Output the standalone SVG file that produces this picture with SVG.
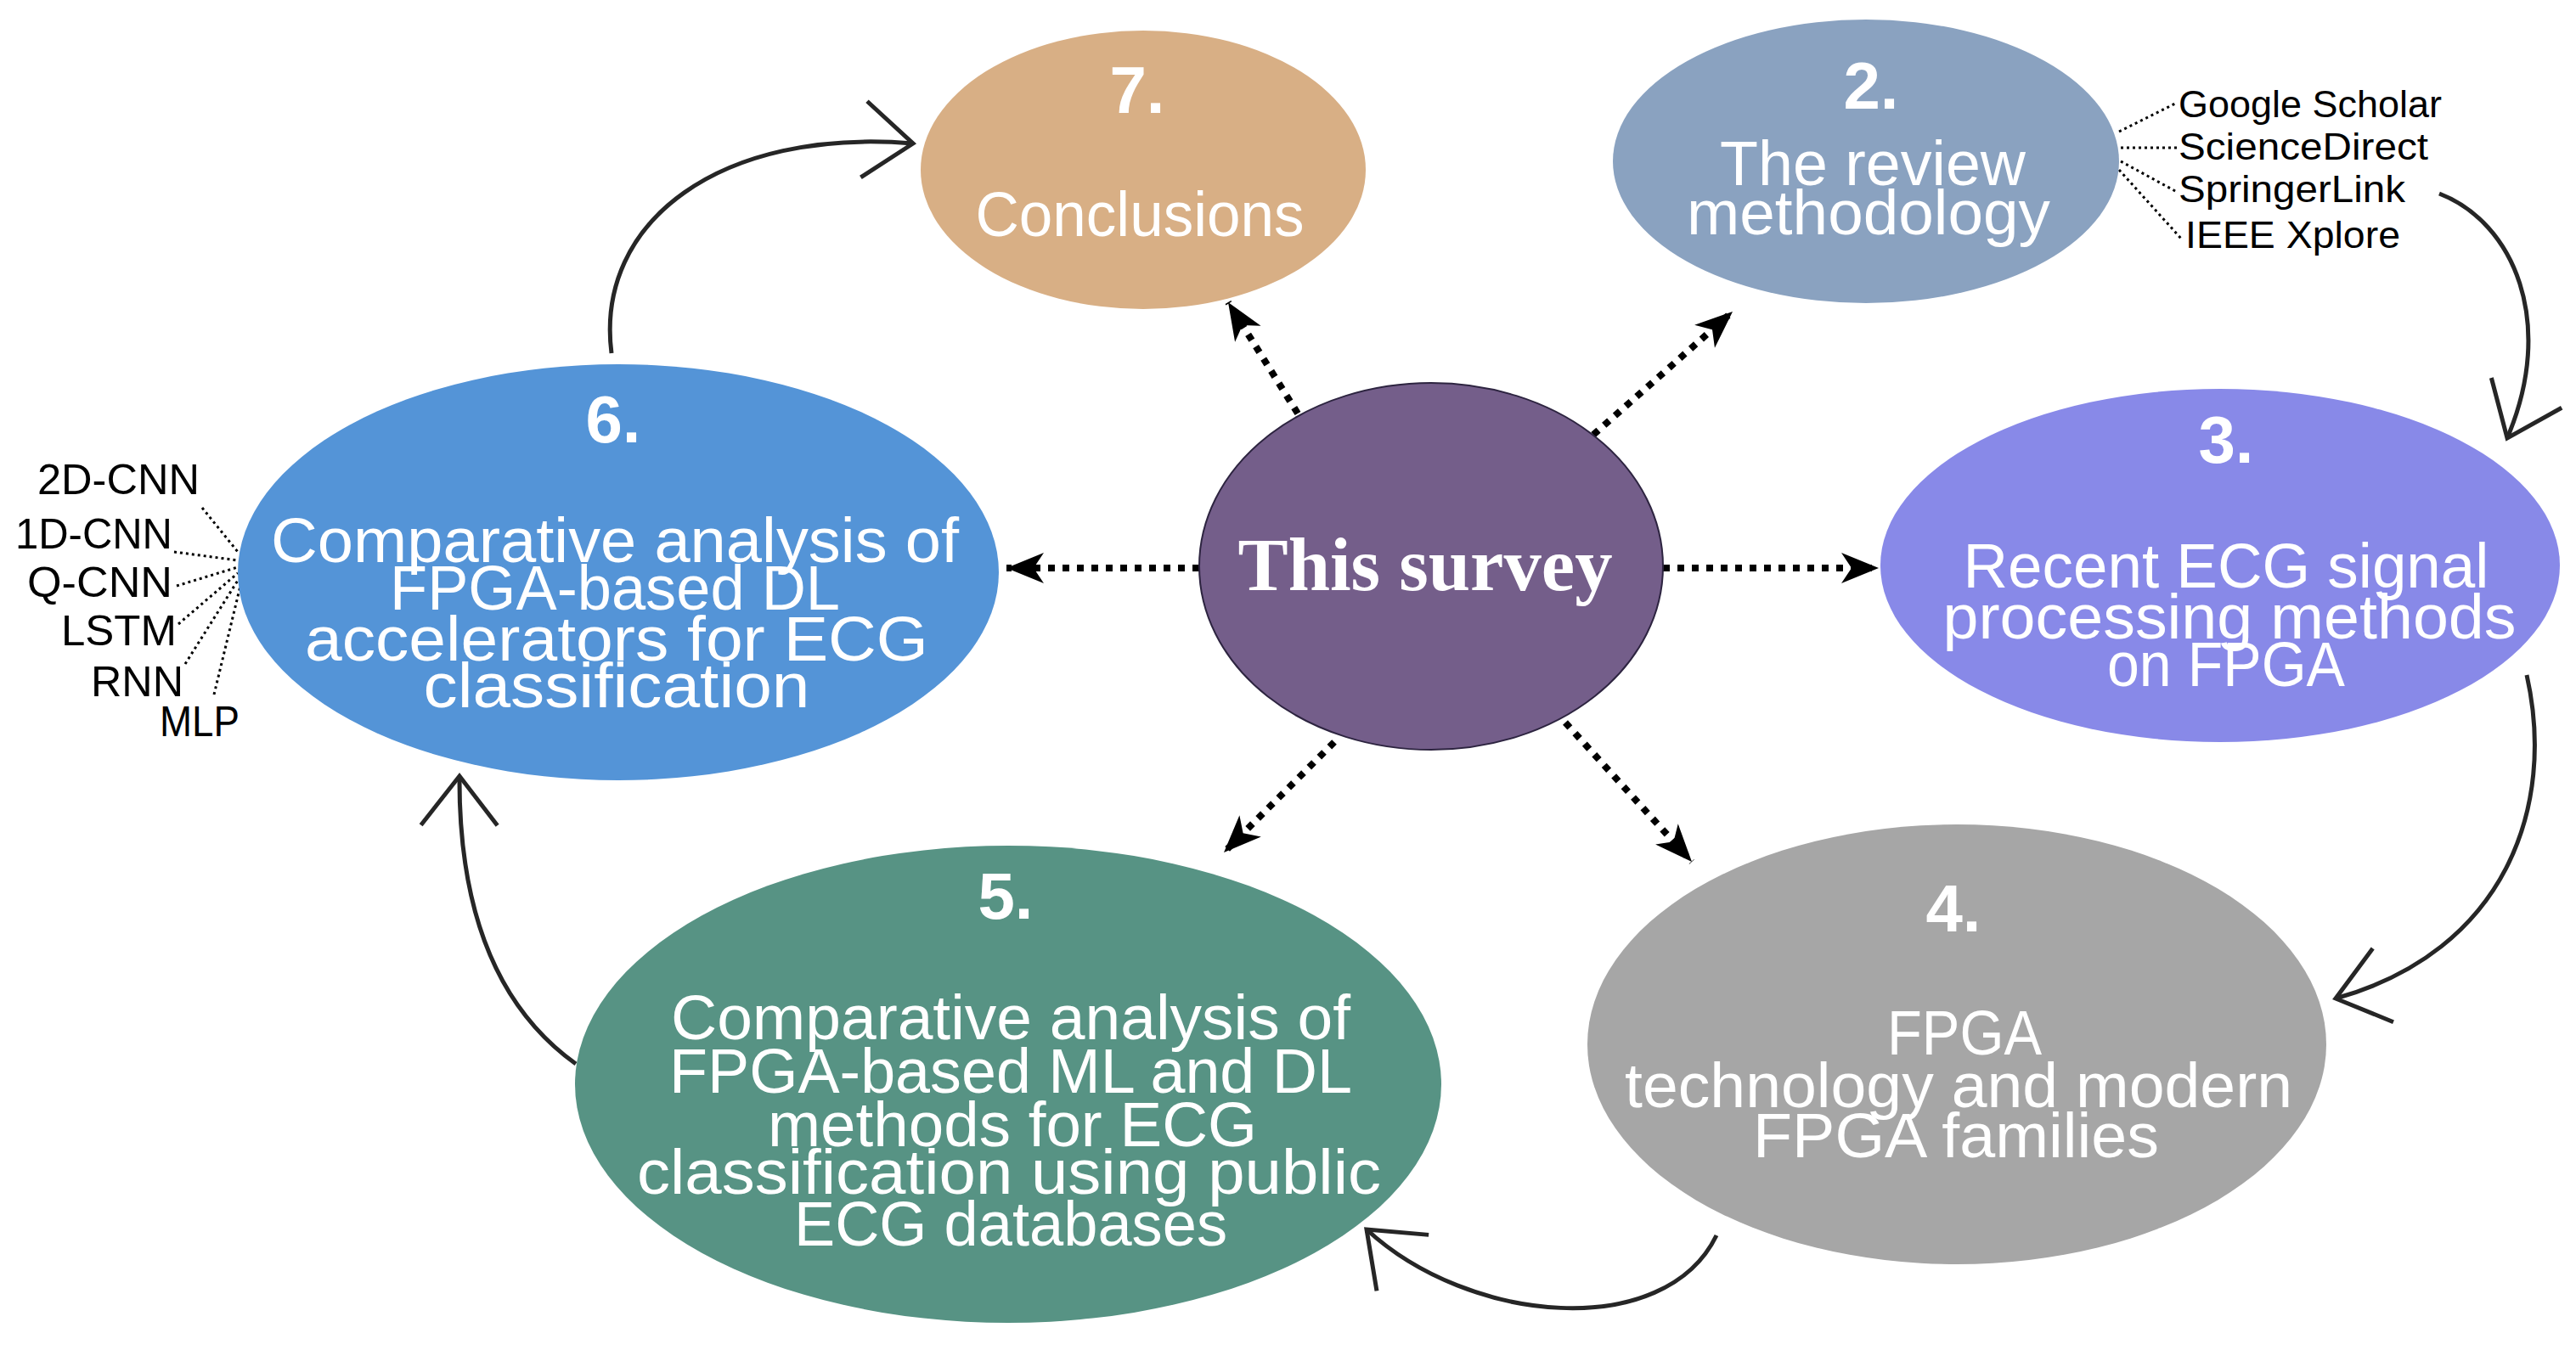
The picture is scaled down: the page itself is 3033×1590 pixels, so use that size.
<svg xmlns="http://www.w3.org/2000/svg" width="3033" height="1590" viewBox="0 0 3033 1590">
<defs>
<style>
.t{fill:#fff;font-family:"Liberation Sans",Arial,sans-serif;font-size:75px;text-anchor:middle;}
.n{fill:#fff;font-family:"Liberation Sans",Arial,sans-serif;font-size:78px;font-weight:bold;text-anchor:middle;}
.lbl{fill:#000;font-family:"Liberation Sans",Arial,sans-serif;font-size:45px;}
.lbl6{fill:#000;font-family:"Liberation Sans",Arial,sans-serif;font-size:50px;}
.dot{fill:none;stroke:#000;stroke-width:8;stroke-dasharray:8 9;}
.thin{fill:none;stroke:#000;stroke-width:3;stroke-dasharray:3 4;}
.cur{fill:none;stroke:#262626;stroke-width:5;}
</style>
<marker id="stealth" markerUnits="userSpaceOnUse" viewBox="-46 -20 50 40" markerWidth="50" markerHeight="40" refX="0" refY="0" orient="auto">
<path d="M0,0 L-44,-18 L-32,0 L-44,18 z" fill="#000"/>
</marker>
<marker id="vee" markerUnits="userSpaceOnUse" viewBox="-70 -55 80 110" markerWidth="80" markerHeight="110" refX="0" refY="0" orient="auto">
<path d="M-58,-45 L0,0 L-58,45" fill="none" stroke="#262626" stroke-width="5"/>
</marker>
</defs>
<rect width="3033" height="1590" fill="#fff"/>

<g id="connectors">
<line class="dot" x1="1412" y1="669" x2="1185" y2="669" marker-end="url(#stealth)"/>
<line class="dot" x1="1958" y1="669" x2="2212" y2="669" marker-end="url(#stealth)"/>
<line class="dot" x1="1528" y1="487" x2="1446" y2="356" marker-end="url(#stealth)"/>
<line class="dot" x1="1876" y1="512" x2="2040" y2="367" marker-end="url(#stealth)"/>
<line class="dot" x1="1571" y1="874" x2="1441" y2="1004" marker-end="url(#stealth)"/>
<line class="dot" x1="1843" y1="851" x2="1992" y2="1015" marker-end="url(#stealth)"/>
<path class="cur" d="M720,416 C700,260 850,150 1075,169" marker-end="url(#vee)"/>
<path class="cur" d="M2872,228 C2960,262 3010,380 2952,516" marker-end="url(#vee)"/>
<path class="cur" d="M2975,795 C3010,950 2950,1120 2750,1176" marker-end="url(#vee)"/>
<path class="cur" d="M2021,1455 C1960,1580 1730,1560 1609,1448" marker-end="url(#vee)"/>
<path class="cur" d="M678,1253 C590,1190 540,1080 541,914" marker-end="url(#vee)"/>
<line class="thin" x1="2495" y1="155" x2="2561" y2="122"/>
<line class="thin" x1="2497" y1="174" x2="2563" y2="174"/>
<line class="thin" x1="2497" y1="190" x2="2563" y2="226"/>
<line class="thin" x1="2495" y1="200" x2="2569" y2="282"/>
<line class="thin" x1="238" y1="598" x2="280" y2="650"/>
<line class="thin" x1="205" y1="650" x2="280" y2="660"/>
<line class="thin" x1="208" y1="690" x2="280" y2="668"/>
<line class="thin" x1="210" y1="735" x2="280" y2="675"/>
<line class="thin" x1="218" y1="782" x2="281" y2="682"/>
<line class="thin" x1="252" y1="818" x2="283" y2="690"/>
</g>

<g id="node-center">
<ellipse cx="1685" cy="667" rx="273" ry="216" fill="#745E8A" stroke="#2d2440" stroke-width="2"/>
<text x="1678" y="695" font-family="'Liberation Serif','Times New Roman',serif" font-size="88" font-weight="bold" fill="#fff" text-anchor="middle" textLength="441" lengthAdjust="spacingAndGlyphs">This survey</text>
</g>

<g id="node-7">
<ellipse cx="1346" cy="200" rx="262" ry="164" fill="#D8AF85"/>
<text class="n" x="1339" y="133">7.</text>
<text class="t" x="1342" y="278" textLength="387" lengthAdjust="spacingAndGlyphs">Conclusions</text>
</g>

<g id="node-2">
<ellipse cx="2197" cy="190" rx="298" ry="167" fill="#8AA2C0"/>
<text class="n" x="2203" y="128">2.</text>
<text class="t" x="2205" y="218" textLength="360" lengthAdjust="spacingAndGlyphs">The review</text>
<text class="t" x="2200" y="276" textLength="428" lengthAdjust="spacingAndGlyphs">methodology</text>
<text class="lbl" x="2565" y="138" textLength="310" lengthAdjust="spacingAndGlyphs">Google Scholar</text>
<text class="lbl" x="2565" y="188" textLength="294" lengthAdjust="spacingAndGlyphs">ScienceDirect</text>
<text class="lbl" x="2565" y="238" textLength="267" lengthAdjust="spacingAndGlyphs">SpringerLink</text>
<text class="lbl" x="2573" y="292" textLength="253" lengthAdjust="spacingAndGlyphs">IEEE Xplore</text>
</g>

<g id="node-3">
<ellipse cx="2614" cy="666" rx="400" ry="208" fill="#8889E8"/>
<text class="n" x="2621" y="545">3.</text>
<text class="t" x="2621" y="692" textLength="619" lengthAdjust="spacingAndGlyphs">Recent ECG signal</text>
<text class="t" x="2625" y="752" textLength="675" lengthAdjust="spacingAndGlyphs">processing methods</text>
<text class="t" x="2621" y="808" textLength="280" lengthAdjust="spacingAndGlyphs">on FPGA</text>
</g>

<g id="node-4">
<ellipse cx="2304" cy="1230" rx="435" ry="259" fill="#A6A6A6"/>
<text class="n" x="2300" y="1097">4.</text>
<text class="t" x="2313" y="1242" textLength="182" lengthAdjust="spacingAndGlyphs">FPGA</text>
<text class="t" x="2306" y="1304" textLength="786" lengthAdjust="spacingAndGlyphs">technology and modern</text>
<text class="t" x="2303" y="1363" textLength="478" lengthAdjust="spacingAndGlyphs">FPGA families</text>
</g>

<g id="node-5">
<ellipse cx="1187" cy="1277" rx="510" ry="281" fill="#579384"/>
<text class="n" x="1184" y="1082">5.</text>
<text class="t" x="1190" y="1224" textLength="800" lengthAdjust="spacingAndGlyphs">Comparative analysis of</text>
<text class="t" x="1190" y="1287" textLength="804" lengthAdjust="spacingAndGlyphs">FPGA-based ML and DL</text>
<text class="t" x="1192" y="1350" textLength="576" lengthAdjust="spacingAndGlyphs">methods for ECG</text>
<text class="t" x="1188" y="1406" textLength="876" lengthAdjust="spacingAndGlyphs">classification using public</text>
<text class="t" x="1190" y="1467" textLength="510" lengthAdjust="spacingAndGlyphs">ECG databases</text>
</g>

<g id="node-6">
<ellipse cx="728" cy="674" rx="448" ry="245" fill="#5494D7"/>
<text class="n" x="722" y="521">6.</text>
<text class="t" x="724" y="662" textLength="810" lengthAdjust="spacingAndGlyphs">Comparative analysis of</text>
<text class="t" x="724" y="718" textLength="530" lengthAdjust="spacingAndGlyphs">FPGA-based DL</text>
<text class="t" x="726" y="778" textLength="734" lengthAdjust="spacingAndGlyphs">accelerators for ECG</text>
<text class="t" x="726" y="833" textLength="455" lengthAdjust="spacingAndGlyphs">classification</text>
<text class="lbl6" x="44" y="582" textLength="191" lengthAdjust="spacingAndGlyphs">2D-CNN</text>
<text class="lbl6" x="18" y="646" textLength="185" lengthAdjust="spacingAndGlyphs">1D-CNN</text>
<text class="lbl6" x="32" y="703" textLength="171" lengthAdjust="spacingAndGlyphs">Q-CNN</text>
<text class="lbl6" x="72" y="760" textLength="136" lengthAdjust="spacingAndGlyphs">LSTM</text>
<text class="lbl6" x="107" y="820" textLength="109" lengthAdjust="spacingAndGlyphs">RNN</text>
<text class="lbl6" x="188" y="867" textLength="94" lengthAdjust="spacingAndGlyphs">MLP</text>
</g>
</svg>
